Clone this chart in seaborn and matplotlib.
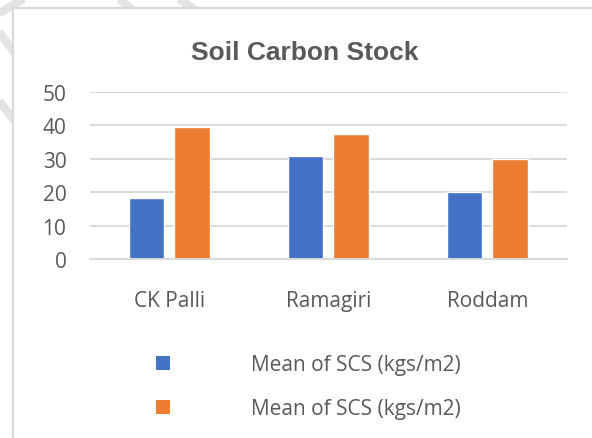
import pandas as pd
import matplotlib
matplotlib.use('Agg')
import matplotlib.pyplot as plt
from matplotlib.patches import Patch, Rectangle
from matplotlib.lines import Line2D
import seaborn as sns

# Chart data
sites = ['CK Palli', 'Ramagiri', 'Roddam']
series_keys = ['s1', 's2']
series1_values = [18.2, 30.9, 20.2]
series2_values = [39.4, 37.4, 30.0]
legend_labels = ['Mean of SCS (kgs/m2)', 'Mean of SCS (kgs/m2)']
y_ticks = [0, 10, 20, 30, 40, 50]
colors = ['#4472C4', '#ED7D31']

df = pd.DataFrame({
    'site': sites * 2,
    'scs': series1_values + series2_values,
    'series': [series_keys[0]] * 3 + [series_keys[1]] * 3,
})

sns.set_style('white')
plt.rcParams['font.family'] = ['Open Sans', 'DejaVu Sans']

W, H = 592, 439
fig = plt.figure(figsize=(W / 100, H / 100), dpi=100)
fig.patch.set_facecolor('white')

# watermark stripes outside the chart frame
stripe_kw = dict(color='#e3e3e3', linewidth=6, solid_capstyle='butt', zorder=0)
for (x0, y0, x1, y1) in [(112, -6, 146, 22), (170, -6, 212, 22),
                         (-6, 26, 22, 64), (-6, 96, 20, 128), (-4, 16, 34, -6)]:
    fig.add_artist(Line2D([x0 / W, x1 / W], [1 - y0 / H, 1 - y1 / H],
                          transform=fig.transFigure, **stripe_kw))

# chart frame
fig.add_artist(Rectangle((13 / W, -0.05), 1.0, 1 - 9 / H + 0.05,
                         transform=fig.transFigure, facecolor='white',
                         edgecolor='#d9d9d9', linewidth=1.6, zorder=1))

ax = fig.add_axes([90 / W, 1 - 260 / H, 476.7 / W, 167 / H])
ax.set_zorder(2)
ax.patch.set_alpha(0)

sns.barplot(data=df, x='site', y='scs', hue='series', hue_order=series_keys,
            palette=colors, width=0.572, gap=0.22, saturation=1,
            legend=False, ax=ax)

ax.set_ylim(0, 50)
ax.set_yticks(y_ticks)
ax.set_xlim(-0.5, 2.5)
ax.yaxis.grid(True, color='#d9d9d9', linewidth=1.4)
ax.set_axisbelow(True)
for side in ['left', 'right', 'top']:
    ax.spines[side].set_visible(False)
ax.spines['bottom'].set_color('#d9d9d9')
ax.spines['bottom'].set_linewidth(1.4)
ax.set_xlabel('')
ax.set_ylabel('')
ax.tick_params(axis='y', length=0, pad=17, labelsize=15, labelcolor='#595959')
ax.tick_params(axis='x', length=0, pad=22, labelsize=15, labelcolor='#595959')

fig.text(305 / W, 1 - 60.5 / H, 'Soil Carbon Stock', ha='center', va='baseline',
         fontsize=19, fontweight='bold', color='#595959',
         family=['Liberation Sans', 'DejaVu Sans'])

handles = [Patch(facecolor=c, edgecolor='none') for c in colors]
leg = fig.legend(handles, legend_labels, loc='center',
                 bbox_to_anchor=(308.5 / W, 1 - 387.5 / H),
                 frameon=False, fontsize=15, labelcolor='#595959',
                 handlelength=0.67, handleheight=0.67, handletextpad=3.9,
                 labelspacing=1.1)

fig.savefig('out.png', dpi=100)
